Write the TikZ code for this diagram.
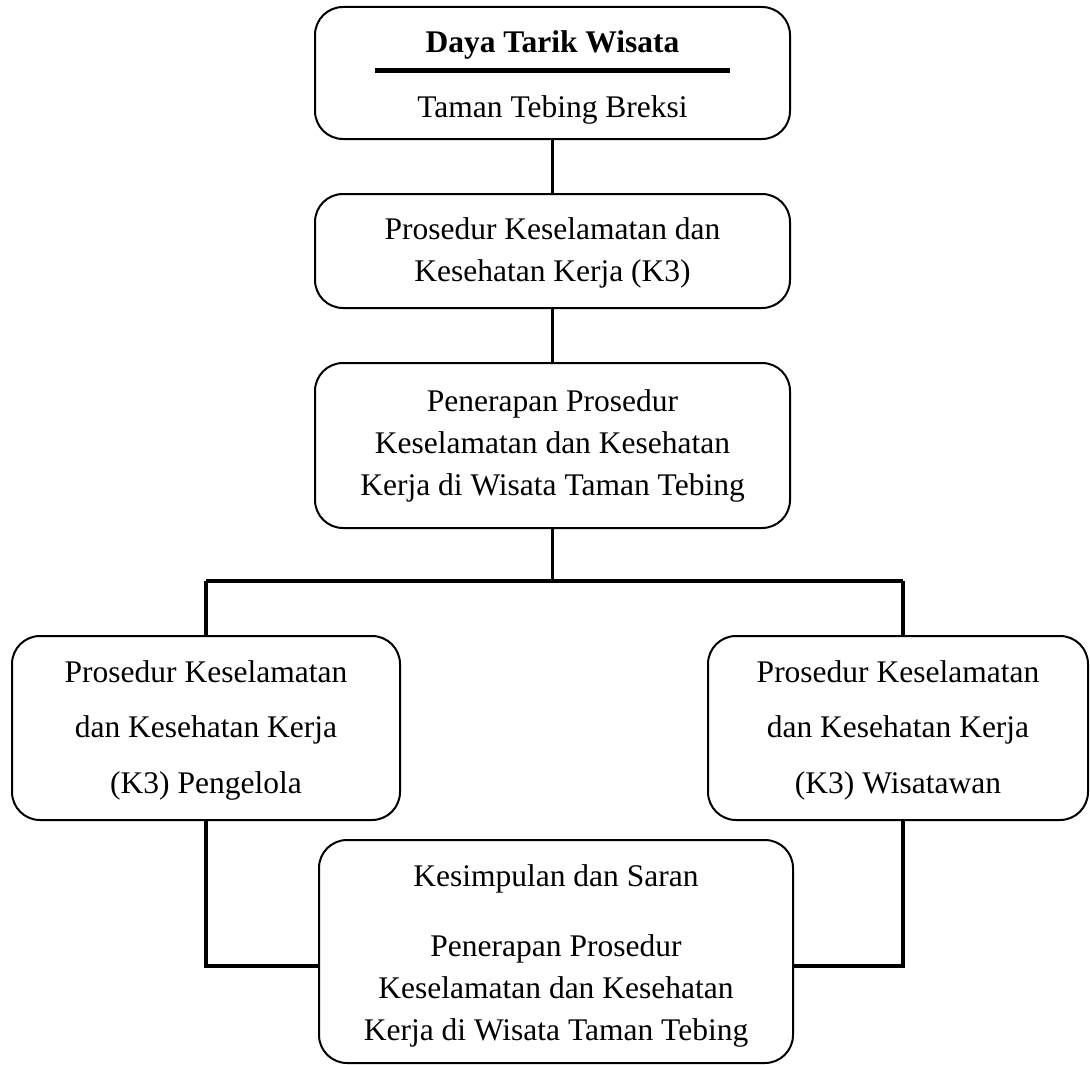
\documentclass[tikz,border=0pt]{standalone}
\usepackage{fontspec}
\setmainfont{Liberation Serif}
\usepackage{tikz}

\begin{document}
\begin{tikzpicture}[x=1pt,y=-1pt,
 kotak/.style={draw,line width=2pt,rounded corners=28pt,align=center,inner sep=0pt,
  font=\fontsize{31.5}{42}\selectfont},
 garis/.style={line width=3.5pt}]
 \useasboundingbox (0,0) rectangle (1090,1065);

 \node[kotak,minimum width=475pt,minimum height=132pt] (tarik) at (552.5, 73)
  {\rule{0pt}{31.5pt}\textbf{Daya Tarik Wisata}\\[-22.3pt]\rule{355pt}{4.4pt}\\[3.3pt]Taman Tebing Breksi};
 \node[kotak,minimum width=475pt,minimum height=114pt] (prosedur) at (552.5, 251)
  {\rule{0pt}{26pt}Prosedur Keselamatan dan\\Kesehatan Kerja (K3)};
 \node[kotak,minimum width=475pt,minimum height=165pt] (penerapan) at (552.5, 445.5)
  {Penerapan Prosedur\\Keselamatan dan Kesehatan\\Kerja di Wisata Taman Tebing};
 \node[kotak,minimum width=388pt,minimum height=184pt] (pengelola) at (206, 728)
  {\rule{0pt}{26pt}Prosedur Keselamatan\\[13.5pt]dan Kesehatan Kerja\\[13.5pt](K3) Pengelola};
 \node[kotak,minimum width=380pt,minimum height=184pt] (wisatawan) at (898, 728)
  {\rule{0pt}{26pt}Prosedur Keselamatan\\[13.5pt]dan Kesehatan Kerja\\[13.5pt](K3) Wisatawan};
 \node[kotak,minimum width=474pt,minimum height=223pt] (kesimpulan) at (556, 951.5)
  {\rule{0pt}{31.5pt}Kesimpulan dan Saran\\[28pt]Penerapan Prosedur\\Keselamatan dan Kesehatan\\Kerja di Wisata Taman Tebing};

 \coordinate (cabang) at (552.5, 581);
 \coordinate (kiri) at (206, 581);
 \coordinate (kanan) at (903, 581);
 \coordinate (gabung) at (0, 966);

 \draw[garis] (tarik) -- (prosedur);
 \draw[garis] (prosedur) -- (penerapan);
 \draw[garis] (penerapan) -- (cabang);
 \draw[garis] (kiri) -- (kanan);
 \draw[garis] (kiri) -- (pengelola);
 \draw[garis] (kanan) -- (kanan |- wisatawan.north);
 \draw[garis] (pengelola) |- (kesimpulan.west |- gabung);
 \draw[garis] (kanan |- wisatawan.south) |- (kesimpulan.east |- gabung);
\end{tikzpicture}
\end{document}
